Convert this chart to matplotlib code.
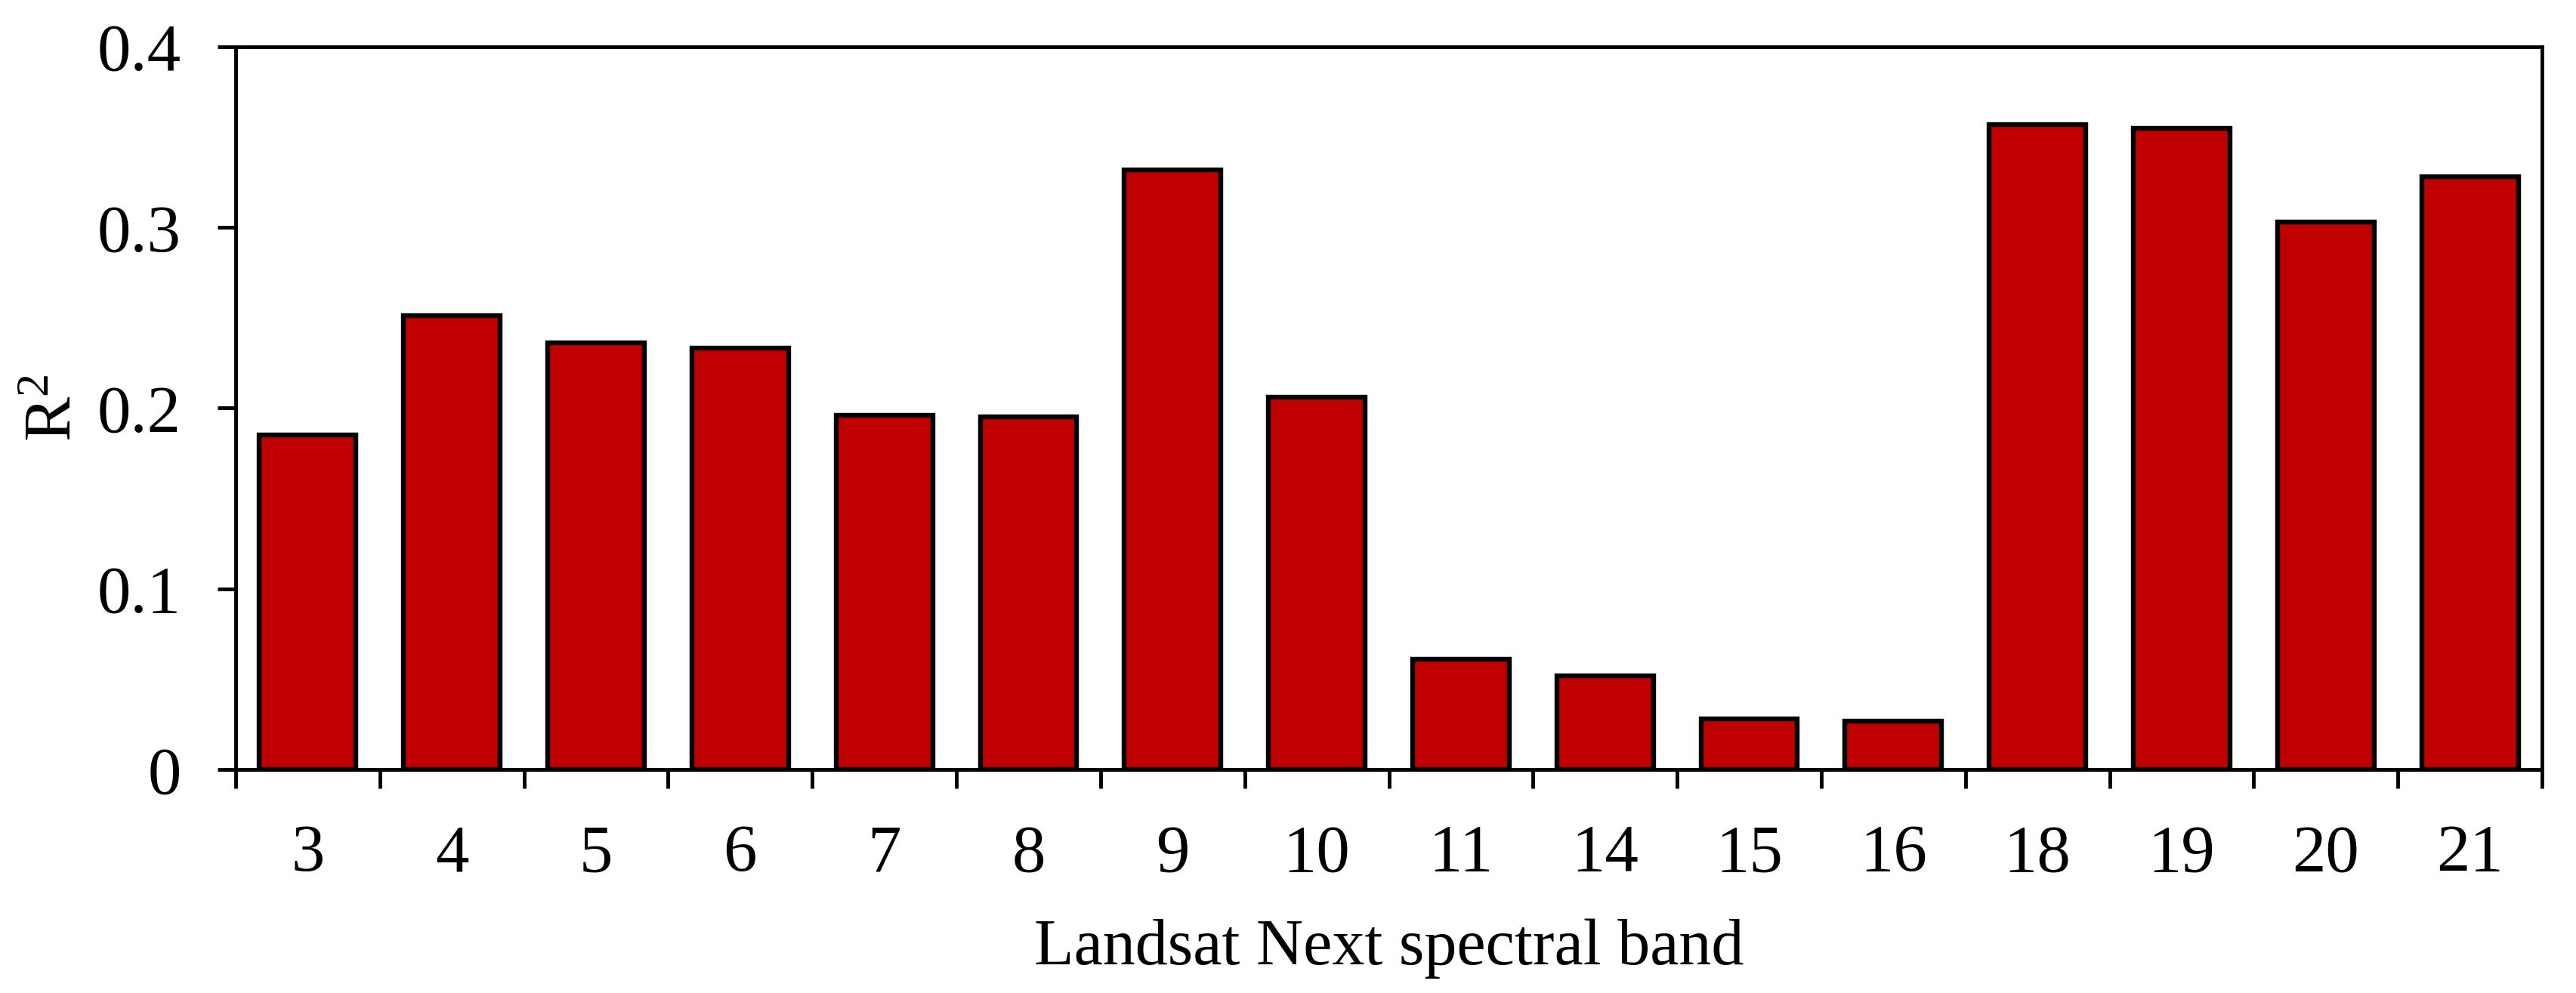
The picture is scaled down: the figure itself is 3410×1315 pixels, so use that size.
import matplotlib
matplotlib.use('Agg')
import matplotlib.pyplot as plt
import numpy as np

# band numbers and R2 values
bands = ['3', '4', '5', '6', '7', '8', '9', '10', '11', '14', '15', '16', '18', '19', '20', '21']
r2 = [0.185, 0.251, 0.236, 0.233, 0.196, 0.195, 0.332, 0.206, 0.061, 0.052, 0.028, 0.027,
      0.357, 0.355, 0.303, 0.328]
yticks = [0, 0.1, 0.2, 0.3, 0.4]
ytick_labels = ['0', '0.1', '0.2', '0.3', '0.4']

plt.rcParams['font.family'] = ['Liberation Serif', 'DejaVu Serif']
plt.rcParams['mathtext.fontset'] = 'custom'
plt.rcParams['mathtext.rm'] = 'Liberation Serif'
plt.rcParams['mathtext.it'] = 'Liberation Serif'

fig = plt.figure(figsize=(34.1, 13.15), dpi=100)
ax = fig.add_axes([0.0915, 0.225, 0.8953, 0.728])

x = np.arange(len(bands))
ax.bar(x, r2, width=0.67, color='#C00000', edgecolor='black', linewidth=4.6, zorder=3)

ax.set_xlim(-0.5, len(bands) - 0.5)
ax.set_ylim(0, 0.4)

ax.set_yticks(yticks)
ax.set_yticklabels(ytick_labels)
ax.set_xticks(x)
ax.set_xticklabels(bands)
ax.tick_params(axis='x', length=0, pad=52, labelsize=64)
ax.set_xticks(np.arange(len(bands) + 1) - 0.5, minor=True)
ax.tick_params(axis='x', which='minor', length=18, width=3.5, direction='out')
ax.tick_params(axis='y', length=17, width=3.5, direction='out', pad=35, labelsize=64)

for s in ax.spines.values():
    s.set_linewidth(3.5)

ax.set_xlabel('Landsat Next spectral band', fontsize=62, labelpad=32)
ax.set_ylabel(r'$\mathrm{R}^2$', fontsize=64, labelpad=12)

fig.savefig('out.png', dpi=100)
